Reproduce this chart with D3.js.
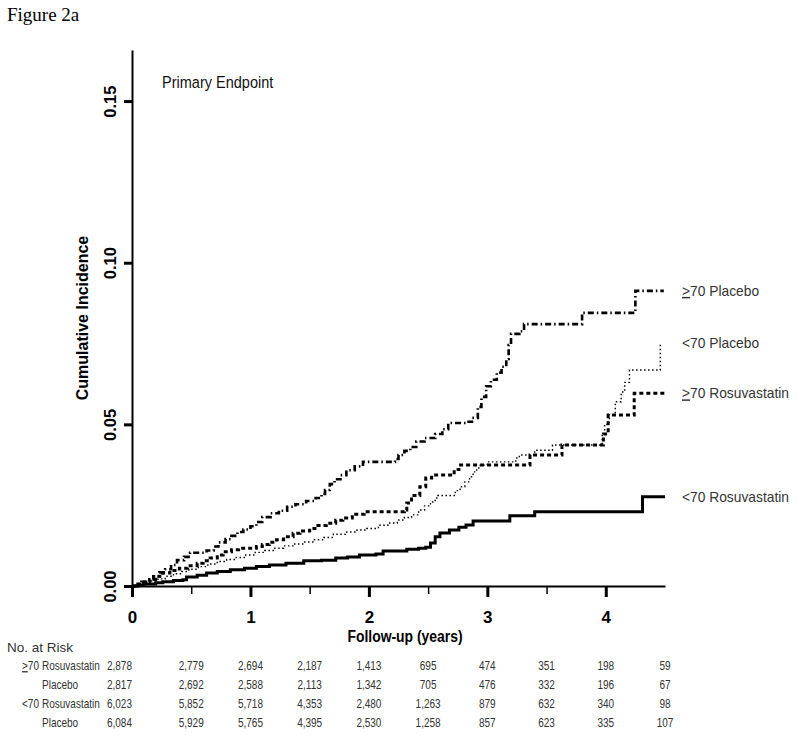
<!DOCTYPE html>
<html><head><meta charset="utf-8">
<script src="https://cdn.jsdelivr.net/npm/d3@7"></script>
<style>body{margin:0;background:#fff}</style>
</head><body>
<svg id="chart" width="800" height="737"></svg>
<script>
// ---------- data ----------
const xTicksMajor = [0, 1, 2, 3, 4];
const xTicksMinor = [0.5, 1.5, 2.5, 3.5];
const yTicks = [0, 0.05, 0.10, 0.15];

const ge70Placebo = [[0,0],[0.04,0.0006],[0.08,0.0013],[0.13,0.002],[0.18,0.003],[0.23,0.0042],[0.28,0.0052],[0.33,0.0065],[0.38,0.008],[0.44,0.009],[0.49,0.0103],[0.63,0.011],[0.69,0.0122],[0.73,0.0135],[0.79,0.0145],[0.84,0.0155],[0.89,0.0167],[0.94,0.0175],[1.0,0.0185],[1.05,0.0198],[1.1,0.0213],[1.17,0.0225],[1.24,0.0233],[1.31,0.0245],[1.38,0.0253],[1.47,0.0263],[1.55,0.0272],[1.6,0.0285],[1.63,0.0297],[1.67,0.0315],[1.71,0.033],[1.76,0.0343],[1.81,0.0358],[1.88,0.037],[1.95,0.0384],[2.22,0.0393],[2.25,0.0405],[2.3,0.0418],[2.35,0.043],[2.4,0.0447],[2.47,0.0458],[2.56,0.047],[2.62,0.0485],[2.67,0.0504],[2.82,0.0508],[2.87,0.052],[2.92,0.0554],[2.95,0.0585],[2.99,0.0618],[3.03,0.0638],[3.08,0.066],[3.12,0.0678],[3.16,0.0702],[3.18,0.0745],[3.2,0.078],[3.27,0.0788],[3.31,0.081],[3.8,0.0845],[4.25,0.0913],[4.49,0.0913]];

const lt70Placebo = [[0,0],[0.05,0.0005],[0.1,0.001],[0.16,0.0016],[0.22,0.0022],[0.28,0.003],[0.35,0.0038],[0.42,0.0045],[0.48,0.0052],[0.56,0.006],[0.64,0.0068],[0.72,0.0076],[0.8,0.0082],[0.88,0.0088],[0.96,0.0096],[1.04,0.0104],[1.12,0.011],[1.2,0.0117],[1.28,0.0124],[1.36,0.013],[1.45,0.0136],[1.54,0.0143],[1.62,0.015],[1.7,0.016],[1.8,0.0167],[1.9,0.0173],[1.98,0.0178],[2.08,0.0188],[2.16,0.0195],[2.24,0.0204],[2.3,0.0212],[2.36,0.022],[2.42,0.0235],[2.47,0.0248],[2.52,0.026],[2.56,0.0272],[2.58,0.028],[2.73,0.0295],[2.77,0.0307],[2.81,0.0322],[2.85,0.0338],[2.88,0.0353],[2.91,0.0365],[2.94,0.0374],[3.0,0.0384],[3.24,0.0396],[3.27,0.0405],[3.4,0.042],[3.55,0.0436],[3.97,0.047],[3.99,0.050],[4.03,0.053],[4.08,0.057],[4.13,0.060],[4.16,0.063],[4.2,0.0668],[4.46,0.0752]];

const ge70Rosuvastatin = [[0,0],[0.05,0.0006],[0.1,0.0012],[0.15,0.002],[0.2,0.003],[0.26,0.004],[0.32,0.0048],[0.4,0.0055],[0.47,0.0063],[0.55,0.007],[0.6,0.0078],[0.66,0.0087],[0.72,0.0096],[0.77,0.0106],[0.84,0.0112],[0.9,0.0117],[1.05,0.0122],[1.1,0.0128],[1.16,0.0135],[1.22,0.0143],[1.28,0.0152],[1.36,0.0163],[1.42,0.017],[1.5,0.0178],[1.57,0.0187],[1.64,0.0194],[1.72,0.0203],[1.78,0.021],[1.86,0.0222],[1.96,0.023],[2.3,0.0235],[2.32,0.0257],[2.36,0.028],[2.43,0.0307],[2.48,0.0334],[2.53,0.0343],[2.72,0.036],[2.76,0.0374],[3.36,0.0405],[3.63,0.0436],[3.98,0.047],[4.02,0.0529],[4.24,0.0596],[4.5,0.0596]];

const lt70Rosuvastatin = [[0,0],[0.05,0.0003],[0.1,0.0006],[0.2,0.001],[0.26,0.0013],[0.35,0.0017],[0.43,0.0019],[0.46,0.0028],[0.55,0.0033],[0.63,0.004],[0.72,0.0045],[0.83,0.005],[0.95,0.0055],[1.05,0.006],[1.16,0.0065],[1.3,0.007],[1.45,0.0078],[1.6,0.008],[1.72,0.0087],[1.82,0.009],[1.92,0.0096],[2.06,0.0099],[2.12,0.0108],[2.32,0.0114],[2.42,0.0117],[2.48,0.012],[2.52,0.0133],[2.56,0.0152],[2.6,0.0164],[2.68,0.0173],[2.76,0.0182],[2.82,0.0189],[2.88,0.0201],[3.19,0.0217],[3.4,0.023],[4.31,0.0276],[4.5,0.0276]];

const seriesNames = ["70 Placebo", "70 Placebo", "70 Rosuvastatin", "70 Rosuvastatin"];
const seriesPrefix = [">", "<", ">", "<"];

const riskTimes = [0, 0.5, 1, 1.5, 2, 2.5, 3, 3.5, 4, 4.5];
const riskGroups = [">", "", "<", ""];
const riskArms = ["Rosuvastatin", "Placebo", "Rosuvastatin", "Placebo"];
const riskGe70Rosuvastatin = [2878, 2779, 2694, 2187, 1413, 695, 474, 351, 198, 59];
const riskGe70Placebo = [2817, 2692, 2588, 2113, 1342, 705, 476, 332, 196, 67];
const riskLt70Rosuvastatin = [6023, 5852, 5718, 4353, 2480, 1263, 879, 632, 340, 98];
const riskLt70Placebo = [6084, 5929, 5765, 4395, 2530, 1258, 857, 623, 335, 107];

// ---------- layout ----------
const svg = d3.select("#chart");
const x = d3.scaleLinear().domain([0, 4.5]).range([132, 665]);
const y = d3.scaleLinear().domain([0, 0.1658]).range([586, 50]);
const sans = "'Liberation Sans', Arial, sans-serif";

svg.append("text").attr("x", 7).attr("y", 21)
  .attr("font-family", "'Liberation Serif', 'Times New Roman', serif")
  .attr("font-size", 19).text("Figure 2a");

svg.append("text").attr("transform", "translate(162,88) scale(0.88,1)")
  .attr("font-family", sans).attr("font-size", 16.5).attr("fill", "#111")
  .text("Primary Endpoint");

// y axis
const yAxis = svg.append("g").attr("transform", `translate(${x(0)},0)`)
  .call(d3.axisLeft(y).tickValues(yTicks).tickSize(8).tickSizeOuter(0).tickFormat(d3.format(".2f")));
yAxis.select(".domain").attr("stroke-width", 2);
yAxis.selectAll(".tick line").attr("stroke-width", 3);
yAxis.selectAll(".tick text")
  .attr("x", null).attr("dy", null)
  .attr("transform", "translate(-16,0) rotate(-90)")
  .attr("text-anchor", "middle")
  .attr("font-family", sans).attr("font-size", 16.5).attr("font-weight", "bold").attr("fill", "#000");

// x axis
const xAxis = svg.append("g").attr("transform", `translate(0,${y(0)})`)
  .call(d3.axisBottom(x).tickValues(xTicksMajor).tickSize(11).tickSizeOuter(0).tickFormat(d3.format("d")));
xAxis.select(".domain").attr("stroke-width", 2);
xAxis.selectAll(".tick line").attr("stroke-width", 3);
xAxis.selectAll(".tick text").attr("y", 37).attr("dy", null)
  .attr("font-family", sans).attr("font-size", 17).attr("font-weight", "bold").attr("fill", "#000");
const xMinor = svg.append("g").attr("transform", `translate(0,${y(0)})`)
  .call(d3.axisBottom(x).tickValues(xTicksMinor).tickSize(8).tickFormat(""));
xMinor.select(".domain").remove();
xMinor.selectAll(".tick line").attr("stroke-width", 1.5);

// axis titles
svg.append("text").attr("transform", "translate(405,642) scale(0.87,1)")
  .attr("text-anchor", "middle").attr("font-family", sans).attr("font-size", 16)
  .attr("font-weight", "bold").text("Follow-up (years)");
svg.append("text").attr("transform", "translate(88,318) rotate(-90)")
  .attr("text-anchor", "middle").attr("font-family", sans).attr("font-size", 16)
  .attr("font-weight", "bold").text("Cumulative Incidence");

// curves
const line = d3.line().x(d => x(d[0])).y(d => y(d[1])).curve(d3.curveStepAfter);
const curves = [
  {data: ge70Placebo, dash: "6,3,1.5,3", width: 2.6},
  {data: lt70Placebo, dash: "1.5,2.5", width: 1.4},
  {data: ge70Rosuvastatin, dash: "4,3", width: 3},
  {data: lt70Rosuvastatin, dash: null, width: 3}
];
const cg = svg.append("g");
curves.forEach((c, i) => {
  cg.append("path").datum(c.data).attr("d", line)
    .attr("fill", "none").attr("stroke", "#000")
    .attr("stroke-width", c.width)
    .attr("stroke-dasharray", c.dash);
  const last = c.data[c.data.length - 1];
  const t = svg.append("text")
    .attr("transform", `translate(682,${y(last[1]) + 5}) scale(0.92,1)`)
    .attr("font-family", sans).attr("font-size", 15).attr("fill", "#333");
  t.append("tspan").attr("text-decoration", seriesPrefix[i] === ">" ? "underline" : null)
    .text(seriesPrefix[i]);
  t.append("tspan").text(seriesNames[i]);
});

// risk table
svg.append("text").attr("x", 7).attr("y", 652)
  .attr("font-family", sans).attr("font-size", 13.5).attr("fill", "#333").text("No. at Risk");
const riskRows = [riskGe70Rosuvastatin, riskGe70Placebo, riskLt70Rosuvastatin, riskLt70Placebo];
const fmt = d3.format(",");
riskRows.forEach((row, r) => {
  const by = 670 + r * 19;
  if (riskGroups[r]) {
    const g = svg.append("text").attr("transform", `translate(22,${by}) scale(0.77,1)`)
      .attr("font-family", sans).attr("font-size", 13).attr("fill", "#333");
    g.append("tspan").attr("text-decoration", riskGroups[r] === ">" ? "underline" : null).text(riskGroups[r]);
    g.append("tspan").text("70");
  }
  svg.append("text").attr("transform", `translate(42,${by}) scale(0.77,1)`)
    .attr("font-family", sans).attr("font-size", 13).attr("fill", "#333").text(riskArms[r]);
  row.forEach((v, j) => {
    const first = j === 0;
    svg.append("text").attr("transform", `translate(${x(riskTimes[j])},${by}) scale(0.77,1)`)
      .attr("text-anchor", first ? "end" : "middle")
      .attr("font-family", sans).attr("font-size", 13).attr("fill", "#333").text(fmt(v));
  });
});
</script>
</body></html>
